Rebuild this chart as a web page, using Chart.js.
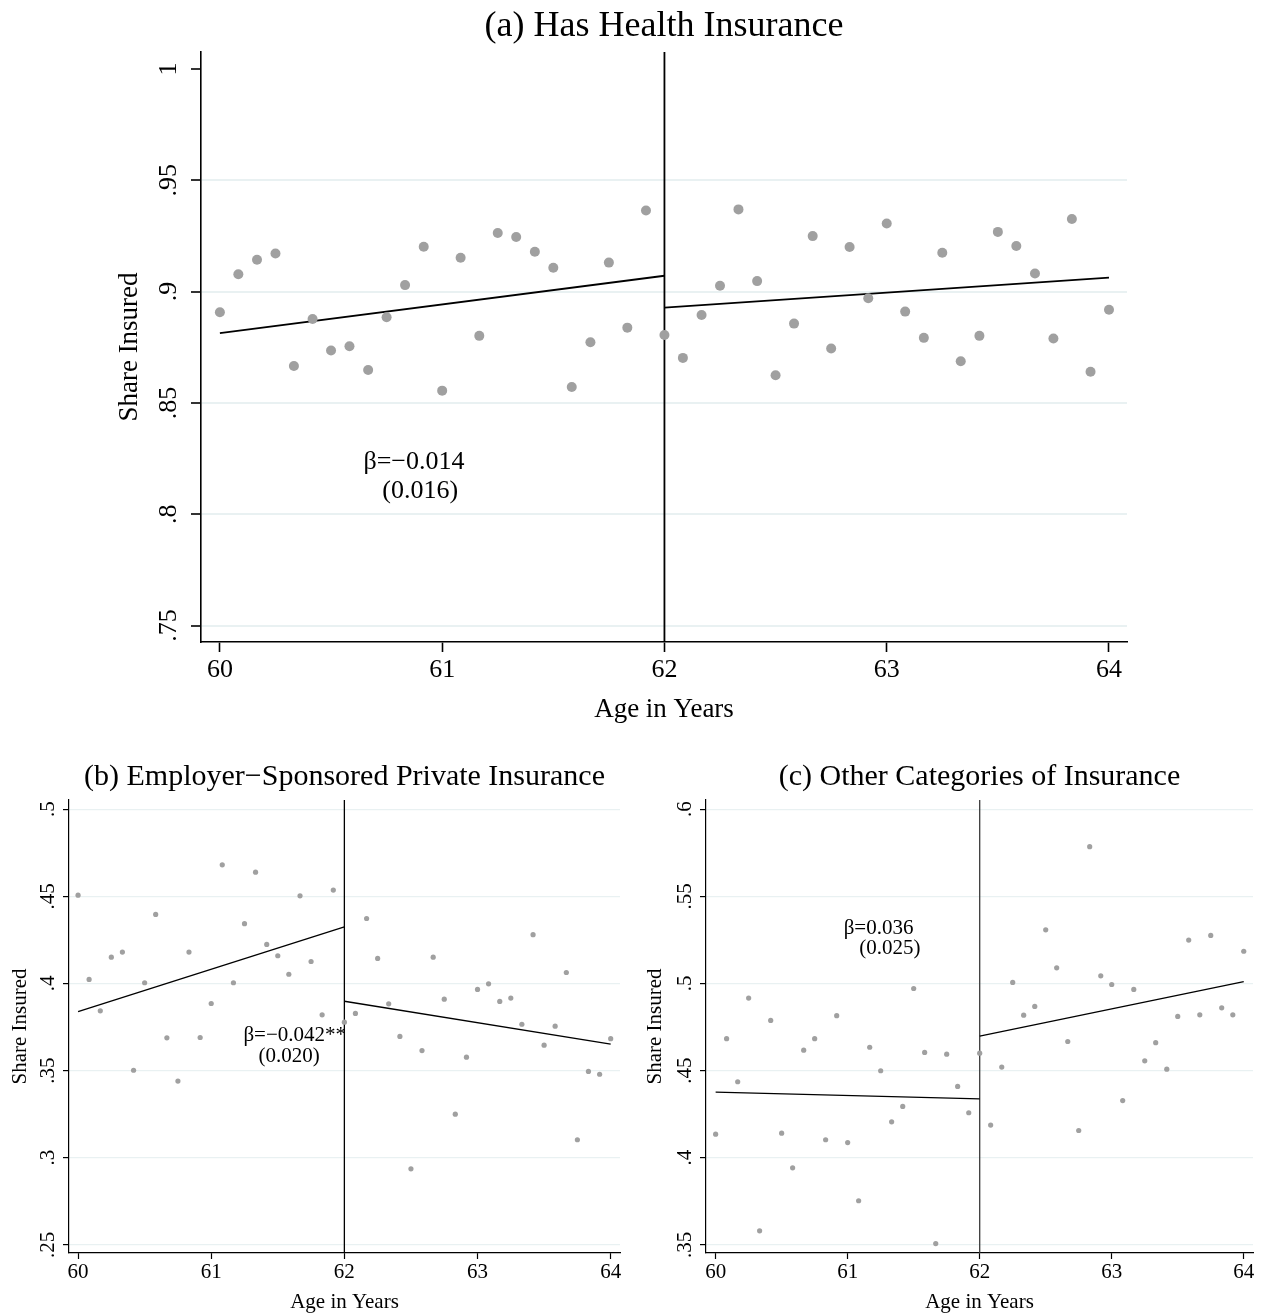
<!DOCTYPE html>
<html>
<head>
<meta charset="utf-8">
<title>Health insurance around age 62</title>
<script src="https://cdn.jsdelivr.net/npm/chart.js@4.4.1/dist/chart.umd.min.js"></script>
<style>
  html, body { margin: 0; padding: 0; background: #ffffff; }
  #page { position: relative; width: 1266px; height: 1316px; background: #ffffff; overflow: hidden; }
  #page canvas { position: absolute; }
</style>
</head>
<body>
<div id="page">
  <canvas id="panelA" width="1266" height="740" style="left:0px;top:0px;width:1266px;height:740px"></canvas>
  <canvas id="panelB" width="633" height="576" style="left:0px;top:740px;width:633px;height:576px"></canvas>
  <canvas id="panelC" width="633" height="576" style="left:633px;top:740px;width:633px;height:576px"></canvas>
</div>
<script>
// ---- data -------------------------------------------------------------
// age in years, one observation per month of age
const ages = [
  60.000, 60.083, 60.167, 60.250, 60.333, 60.417, 60.500, 60.583, 60.667, 60.750, 60.833, 60.917,
  61.000, 61.083, 61.167, 61.250, 61.333, 61.417, 61.500, 61.583, 61.667, 61.750, 61.833, 61.917,
  62.000, 62.083, 62.167, 62.250, 62.333, 62.417, 62.500, 62.583, 62.667, 62.750, 62.833, 62.917,
  63.000, 63.083, 63.167, 63.250, 63.333, 63.417, 63.500, 63.583, 63.667, 63.750, 63.833, 63.917,
  64.000
];

// (a) share with any health insurance
const hasInsurance = [
  0.8907, 0.9078, 0.9143, 0.9171, 0.8666, 0.8877, 0.8735, 0.8754, 0.8648, 0.8885, 0.9029, 0.9201,
  0.8555, 0.9152, 0.8801, 0.9263, 0.9245, 0.9179, 0.9107, 0.8571, 0.8772, 0.9130, 0.8838, 0.9364,
  0.8805, 0.8702, 0.8895, 0.9026, 0.9369, 0.9047, 0.8624, 0.8856, 0.9249, 0.8744, 0.9200, 0.8970,
  0.9306, 0.8910, 0.8792, 0.9174, 0.8687, 0.8801, 0.9268, 0.9205, 0.9081, 0.8789, 0.9326, 0.8640,
  0.8918
];

// (b) share with employer-sponsored private insurance
const employerInsurance = [
  0.4507, 0.4023, 0.3843, 0.4151, 0.4180, 0.3502, 0.4004, 0.4396, 0.3688, 0.3440, 0.4180, 0.3690,
  0.3885, 0.4681, 0.4004, 0.4343, 0.4639, 0.4224, 0.4159, 0.4053, 0.4503, 0.4126, 0.3820, 0.4536,
  0.3778, 0.3828, 0.4373, 0.4144, 0.3883, 0.3696, 0.2936, 0.3615, 0.4151, 0.3910, 0.3250, 0.3577,
  0.3966, 0.3998, 0.3897, 0.3916, 0.3766, 0.4280, 0.3646, 0.3755, 0.4063, 0.3103, 0.3495, 0.3479,
  0.3683
];

// (c) share with other categories of insurance
const otherInsurance = [
  0.4135, 0.4683, 0.4436, 0.4916, 0.3580, 0.4788, 0.4141, 0.3942, 0.4617, 0.4683, 0.4103, 0.4815,
  0.4087, 0.3753, 0.4634, 0.4499, 0.4206, 0.4294, 0.4971, 0.4604, 0.3507, 0.4594, 0.4409, 0.4258,
  0.4600, 0.4187, 0.4520, 0.5006, 0.4818, 0.4868, 0.5308, 0.5090, 0.4667, 0.4156, 0.5785, 0.5044,
  0.4994, 0.4328, 0.4966, 0.4556, 0.4660, 0.4508, 0.4811, 0.5249, 0.4820, 0.5276, 0.4860, 0.4820,
  0.5185
];

// linear fits on each side of the cutoff: [value at start, value at end]
const cutoffAge = 62;
const fitLeftAges = [60, 62];
const fitRightAges = [62, 64];
const fitA_left = [0.8813, 0.9071];
const fitA_right = [0.8928, 0.9063];
const fitB_left = [0.3839, 0.4325];
const fitB_right = [0.3898, 0.3652];
const fitC_left = [0.4376, 0.4338];
const fitC_right = [0.4698, 0.5010];

// axis ticks
const xTickValues = [60, 61, 62, 63, 64];
const xTickLabels = ['60', '61', '62', '63', '64'];
const yTicksA = [0.75, 0.80, 0.85, 0.90, 0.95, 1.00];
const yLabelsA = ['.75', '.8', '.85', '.9', '.95', '1'];
const yTicksB = [0.25, 0.30, 0.35, 0.40, 0.45, 0.50];
const yLabelsB = ['.25', '.3', '.35', '.4', '.45', '.5'];
const yTicksC = [0.35, 0.40, 0.45, 0.50, 0.55, 0.60];
const yLabelsC = ['.35', '.4', '.45', '.5', '.55', '.6'];

// discontinuity estimates (standard errors in parentheses)
const estimateA = ['β=−0.014', '(0.016)'];
const estimateB = ['β=−0.042**', '(0.020)'];
const estimateC = ['β=0.036', '(0.025)'];

// ---- drawing ------------------------------------------------------------
const SERIF = "'Liberation Serif', 'Times New Roman', Times, serif";
const DOT = '#a0a0a0';
const GRID = '#e9f1f2';

// text placed at data coordinates inside the plot
const estimateText = {
  id: 'estimateText',
  afterDatasetsDraw(chart, args, opts) {
    const { ctx, scales } = chart;
    ctx.save();
    ctx.fillStyle = '#000';
    ctx.textAlign = 'center';
    ctx.textBaseline = 'middle';
    ctx.font = opts.size + 'px ' + SERIF;
    for (const item of opts.items) {
      ctx.fillText(item.text, scales.x.getPixelForValue(item.x), scales.y.getPixelForValue(item.y));
    }
    ctx.restore();
  }
};

function buildPanel(id, p, s) {
  const f = (size) => ({ family: SERIF, size: size, lineHeight: 1.2 });
  const line = (xs, ys, color, width) => ({
    data: [{ x: xs[0], y: ys[0] }, { x: xs[1], y: ys[1] }],
    showLine: true, borderColor: color, borderWidth: width,
    pointRadius: 0, pointHoverRadius: 0, order: 1
  });
  return new Chart(document.getElementById(id), {
    type: 'scatter',
    data: {
      datasets: [
        {
          data: ages.map((a, i) => ({ x: a, y: p.values[i] })),
          pointRadius: s.dot, pointHoverRadius: s.dot,
          pointBackgroundColor: DOT, pointBorderWidth: 0, order: 0
        },
        line(fitLeftAges, p.fitLeft, '#000', s.fitW),
        line(fitRightAges, p.fitRight, '#000', s.fitW),
        line([cutoffAge, cutoffAge], [p.yMin, p.yMax], s.cutColor, s.cutW)
      ]
    },
    options: {
      responsive: false,
      animation: false,
      devicePixelRatio: 1,
      events: [],
      layout: { padding: { left: 0, right: s.padR, top: 0, bottom: 0 } },
      plugins: {
        legend: { display: false },
        tooltip: { enabled: false },
        title: {
          display: true, text: p.title, fullSize: false, color: '#000',
          font: Object.assign(f(s.titleSize), { weight: 'normal' }),
          padding: { top: s.titlePadTop, bottom: s.titlePadBottom }
        },
        estimateText: { size: s.noteSize, items: p.notes }
      },
      scales: {
        x: {
          type: 'linear', position: 'bottom', bounds: 'data',
          min: p.xMin, max: p.xMax,
          afterBuildTicks: (sc) => { sc.ticks = xTickValues.map(v => ({ value: v })); },
          afterFit: (sc) => { sc.height = s.xAxisH; sc.paddingLeft = 0; sc.paddingRight = 0; },
          ticks: {
            autoSkip: false, maxRotation: 0, minRotation: 0,
            padding: s.xTickPad, color: '#000', font: f(s.tickSize),
            callback: (v, i) => xTickLabels[i]
          },
          grid: {
            drawOnChartArea: false, tickColor: '#000',
            tickLength: s.tickLen, tickWidth: s.axisW
          },
          border: { display: true, color: '#000', width: s.axisW },
          title: {
            display: true, text: 'Age in Years', color: '#000', font: f(s.axisTitleSize),
            padding: { top: 0, bottom: s.xTitlePad }
          }
        },
        y: {
          type: 'linear', position: 'left', bounds: 'data',
          min: p.yMin, max: p.yMax,
          afterBuildTicks: (sc) => { sc.ticks = p.yTicks.map(v => ({ value: v })); },
          afterFit: (sc) => { sc.width = s.yAxisW; sc.paddingTop = 0; sc.paddingBottom = 0; },
          ticks: {
            autoSkip: false, minRotation: 90, maxRotation: 90, crossAlign: 'center',
            padding: s.yTickPad, color: '#000', font: f(s.tickSize),
            callback: (v, i) => p.yLabels[i]
          },
          grid: {
            color: (c) => (c.tick && p.noGrid.indexOf(c.tick.value) >= 0) ? 'rgba(0,0,0,0)' : GRID,
            lineWidth: s.gridW, tickColor: '#000',
            tickLength: s.tickLen, tickWidth: s.axisW
          },
          border: { display: true, color: '#000', width: s.axisW },
          title: {
            display: true, text: 'Share Insured', color: '#000', font: f(s.axisTitleSize),
            padding: { top: s.yTitlePad, bottom: 0 }
          }
        }
      }
    },
    plugins: [estimateText]
  });
}

const bigStyle = {
  dot: 5, fitW: 1.8, cutW: 1.8, cutColor: '#000', axisW: 1.6, gridW: 2, tickLen: 10,
  padR: 139, yAxisW: 201, xAxisH: 98,
  titleSize: 36, titlePadTop: 5.4, titlePadBottom: 3.4,
  tickSize: 26, axisTitleSize: 27, noteSize: 26,
  xTickPad: 2.4, xTitlePad: 13.8, yTickPad: 5.25, yTitlePad: 113.8
};

const smallStyle = {
  dot: 2.6, fitW: 1.3, cutW: 1.3, cutColor: '#000', axisW: 1.2, gridW: 1.2, tickLen: 6,
  padR: 13, yAxisW: 69, xAxisH: 63,
  titleSize: 30, titlePadTop: 19, titlePadBottom: 5,
  tickSize: 21, axisTitleSize: 21, noteSize: 21,
  xTickPad: 0.4, xTitlePad: 1.4, yTickPad: 0.9, yTitlePad: 7.4
};

buildPanel('panelA', {
  title: '(a) Has Health Insurance',
  values: hasInsurance, fitLeft: fitA_left, fitRight: fitA_right,
  xMin: 59.915, xMax: 64.081, yMin: 0.7426, yMax: 1.0076,
  yTicks: yTicksA, yLabels: yLabelsA, noGrid: [1.00],
  notes: [
    { text: estimateA[0], x: 60.873, y: 0.8235 },
    { text: estimateA[1], x: 60.901, y: 0.8103 }
  ]
}, bigStyle);

buildPanel('panelB', {
  title: '(b) Employer−Sponsored Private Insurance',
  values: employerInsurance, fitLeft: fitB_left, fitRight: fitB_right,
  xMin: 59.932, xMax: 64.070, yMin: 0.2453, yMax: 0.5053,
  yTicks: yTicksB, yLabels: yLabelsB, noGrid: [],
  notes: [
    { text: estimateB[0], x: 61.627, y: 0.3701 },
    { text: estimateB[1], x: 61.586, y: 0.3581 }
  ]
}, smallStyle);

buildPanel('panelC', {
  title: '(c) Other Categories of Insurance',
  values: otherInsurance, fitLeft: fitC_left, fitRight: fitC_right,
  xMin: 59.927, xMax: 64.070, yMin: 0.3453, yMax: 0.6053,
  yTicks: yTicksC, yLabels: yLabelsC, noGrid: [],
  notes: [
    { text: estimateC[0], x: 61.234, y: 0.5317 },
    { text: estimateC[1], x: 61.319, y: 0.5201 }
  ]
}, Object.assign({}, smallStyle, { yAxisW: 73, yTitlePad: 9.4, cutColor: '#3a3a3a' }));
</script>
</body>
</html>
